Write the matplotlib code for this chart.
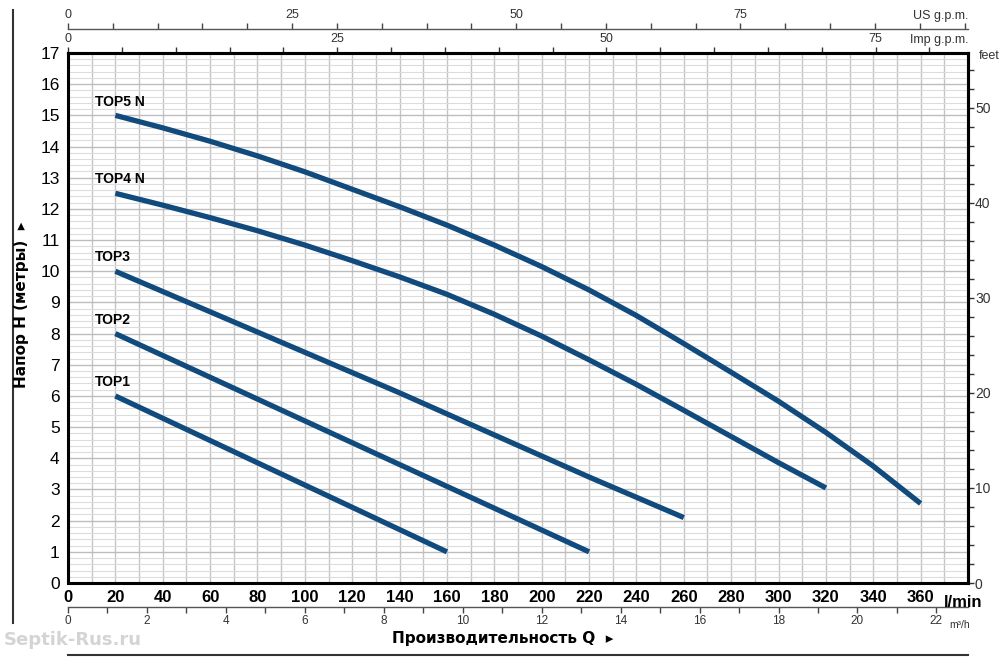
import numpy as np
import matplotlib
matplotlib.use('Agg')
import matplotlib.pyplot as plt
from matplotlib.lines import Line2D
import matplotlib.transforms as mtransforms

plt.rcParams['font.family'] = ['Liberation Sans Narrow', 'Liberation Sans', 'DejaVu Sans']

# pump curves: flow Q [l/min] vs head H [m]
q_top1 = [20, 160]
h_top1 = [6.0, 1.0]
q_top2 = [20, 220]
h_top2 = [8.0, 1.0]
q_top3 = [20, 60, 100, 140, 180, 220, 260]
h_top3 = [10.0, 8.7, 7.4, 6.1, 4.75, 3.4, 2.1]
q_top4 = [20, 40, 60, 80, 100, 120, 140, 160, 180, 200, 220, 240, 260, 280, 300, 320]
h_top4 = [12.5, 12.12, 11.72, 11.3, 10.84, 10.34, 9.82, 9.26, 8.62, 7.92, 7.16, 6.37, 5.54,
          4.7, 3.86, 3.05]
q_top5 = [20, 40, 60, 80, 100, 120, 140, 160, 180, 200, 220, 240, 260, 280, 300, 320, 340, 360]
h_top5 = [15.0, 14.6, 14.17, 13.7, 13.19, 12.63, 12.07, 11.48, 10.84, 10.15, 9.4, 8.58, 7.68,
          6.76, 5.83, 4.83, 3.75, 2.55]

curve_names = ['TOP1', 'TOP2', 'TOP3', 'TOP4 N', 'TOP5 N']
curves_q = [q_top1, q_top2, q_top3, q_top4, q_top5]
curves_h = [h_top1, h_top2, h_top3, h_top4, h_top5]

q_ticks = list(range(0, 361, 20))
h_ticks = list(range(0, 18))
imp_ticks = [0, 25, 50, 75]
us_ticks = [0, 25, 50, 75]
m3h_ticks = list(range(0, 23, 2))
feet_ticks = [0, 10, 20, 30, 40, 50]

LINE_COLOR = '#114a7c'
GRID_COLOR = '#c4c4c4'

# unit conversions
L_PER_IMP = 4.54609
L_PER_US = 3.78541
FT_PER_M = 3.28084


def lmin_to_imp(x):
    return np.asarray(x) / L_PER_IMP


def imp_to_lmin(x):
    return np.asarray(x) * L_PER_IMP


def lmin_to_us(x):
    return np.asarray(x) / L_PER_US


def us_to_lmin(x):
    return np.asarray(x) * L_PER_US


def lmin_to_m3h(x):
    return np.asarray(x) * 0.06


def m3h_to_lmin(x):
    return np.asarray(x) / 0.06


def m_to_ft(x):
    return np.asarray(x) * FT_PER_M


def ft_to_m(x):
    return np.asarray(x) / FT_PER_M


fig = plt.figure(figsize=(10, 6.62), dpi=100)
ax = fig.add_axes([0.068, 0.1193, 0.9, 0.8006])
ax.set_xlim(0, 380)
ax.set_ylim(0, 17)

# grid
ax.set_xticks(q_ticks)
ax.set_xticks(np.arange(0, 381, 10), minor=True)
ax.set_yticks(h_ticks)
ax.set_yticks(np.arange(0, 17.01, 0.2), minor=True)
ax.grid(which='both', axis='x', color=GRID_COLOR, lw=1.0)
ax.grid(which='major', axis='y', color='#bdbdbd', lw=1.0)
ax.grid(which='minor', axis='y', color='#dcdcdc', lw=0.8)
ax.set_axisbelow(True)

for s in ax.spines.values():
    s.set_linewidth(2.2)
    s.set_color('black')

ax.tick_params(which='both', length=0)
ax.tick_params(axis='x', labelsize=12, pad=5)
ax.tick_params(axis='y', labelsize=12.5, pad=6)
for lab in ax.get_xticklabels():
    lab.set_fontweight('bold')

# curves
for name, qs, hs in zip(curve_names, curves_q, curves_h):
    ax.plot(qs, hs, color=LINE_COLOR, lw=3.8, solid_capstyle='butt',
            solid_joinstyle='round', zorder=3)
    ax.text(qs[0] - 8.5, hs[0] + 0.22, name, fontsize=10, fontweight='bold',
            ha='left', va='bottom', zorder=4)

trans_xa = mtransforms.blended_transform_factory(ax.transData, ax.transAxes)
ax.text(370, -0.022, 'l/min', transform=trans_xa, fontsize=12, fontweight='bold',
        ha='left', va='top')

# top axis: Imp g.p.m.
imp_ax = ax.secondary_xaxis('top', functions=(lmin_to_imp, imp_to_lmin))
imp_ax.set_xticks(imp_ticks)
imp_ax.set_xticks(np.arange(0, 81, 5), minor=True)
imp_ax.tick_params(which='both', direction='out', length=4, width=1, color='#333333',
                   labelsize=9, labelcolor='#333333', pad=2)
imp_ax.spines['top'].set_linewidth(2.2)
ax.text(1.0, 1.025, 'Imp g.p.m.', transform=ax.transAxes, fontsize=9, color='#333333',
        ha='right', va='center')

# top axis: US g.p.m.
us_ax = ax.secondary_xaxis(1.0453, functions=(lmin_to_us, us_to_lmin))
us_ax.set_xticks(us_ticks)
us_ax.set_xticks(np.arange(0, 101, 5), minor=True)
us_ax.tick_params(which='both', direction='out', length=4, width=1, color='#444444',
                  labelsize=9, labelcolor='#333333', pad=2)
us_ax.spines['top'].set_color('#555555')
us_ax.spines['top'].set_linewidth(1.0)
ax.text(1.0, 1.07, 'US g.p.m.', transform=ax.transAxes, fontsize=9, color='#333333',
        ha='right', va='center')

# bottom axis: m3/h
m3_ax = ax.secondary_xaxis(-0.0453, functions=(lmin_to_m3h, m3h_to_lmin))
m3_ax.set_xticks(m3h_ticks)
m3_ax.set_xticks(np.arange(0, 23, 1), minor=True)
m3_ax.tick_params(which='both', direction='out', length=4, width=1, color='#444444',
                  labelsize=8.5, labelcolor='#333333', pad=2)
m3_ax.spines['bottom'].set_color('#555555')
m3_ax.spines['bottom'].set_linewidth(1.0)
ax.text(372, -0.079, 'm³/h', transform=trans_xa, fontsize=7.5, color='#333333',
        ha='left', va='center')

# right axis: feet
ft_ax = ax.secondary_yaxis('right', functions=(m_to_ft, ft_to_m))
ft_ax.set_yticks(feet_ticks)
ft_ax.set_yticks(np.arange(0, 56, 2), minor=True)
ft_ax.tick_params(which='both', direction='out', length=4, width=1, color='#333333',
                  labelsize=10, labelcolor='#333333', pad=1)
ft_ax.spines['right'].set_linewidth(2.2)
ax.text(1.012, 0.995, 'feet', transform=ax.transAxes, fontsize=9, color='#333333',
        ha='left', va='center')

# axis titles
fig.text(0.022, 0.539, 'Напор H (метры)  ▸', rotation=90, fontsize=11, fontweight='bold',
         family=['DejaVu Sans'], ha='center', va='center')
fig.text(0.503, 0.036, 'Производительность Q  ▸', fontsize=11, fontweight='bold',
         family=['DejaVu Sans'], ha='center', va='center')

# frame lines
fig.add_artist(Line2D([0.068, 0.968], [0.0106, 0.0106], color='#333333', lw=1.5))
fig.add_artist(Line2D([0.013, 0.013], [0.059, 0.985], color='#333333', lw=1.5))

# watermark
fig.text(0.004, 0.033, 'Septik-Rus.ru', fontsize=13, fontweight='bold', color='#d4d4d4',
         family=['DejaVu Sans'], ha='left', va='center')

fig.savefig('out.png', dpi=100)
